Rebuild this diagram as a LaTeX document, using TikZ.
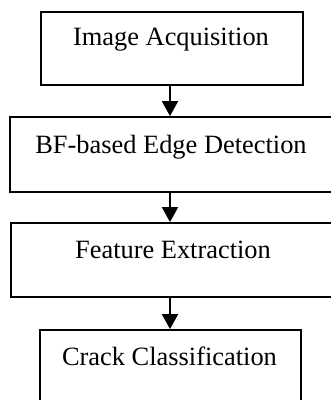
\documentclass[tikz,border=0pt]{standalone}
\usepackage{fontspec}
\setmainfont{Liberation Serif}
\usetikzlibrary{arrows.meta}
\begin{document}
\begin{tikzpicture}[x=1pt,y=-1pt,
  box/.style={draw=black,line width=1.8pt,rectangle,inner sep=0pt},
  lbl/.style={anchor=base,inner sep=0pt,font=\fontsize{26.4}{30}\selectfont},
  arr/.style={line width=1.8pt,-{Triangle[width=16pt,length=15pt]}}]
\useasboundingbox (0,0) rectangle (331,400);
\clip (0,0) rectangle (331,400);
\node[box,minimum width=262pt,minimum height=73pt] (b1) at (172,48.5) {};
\node[box,minimum width=332pt,minimum height=75pt] (b2) at (176,154.5) {};
\node[box,minimum width=332pt,minimum height=74pt] (b3) at (177,260) {};
\node[box,minimum width=261pt,minimum height=100pt] (b4) at (170.5,380) {};
\node[lbl] (t1) at (171,45) {Image Acquisition};
\node[lbl] (t2) at (171,153) {BF-based Edge Detection};
\node[lbl] (t3) at (173,258) {Feature Extraction};
\node[lbl] (t4) at (169.5,365) {Crack Classification};
\coordinate (a1) at (170,0);
\draw[arr] (b1.south -| a1) -- (b2.north -| a1);
\draw[arr] (b2.south -| a1) -- (b3.north -| a1);
\draw[arr] (b3.south -| a1) -- (b4.north -| a1);
\end{tikzpicture}
\end{document}
